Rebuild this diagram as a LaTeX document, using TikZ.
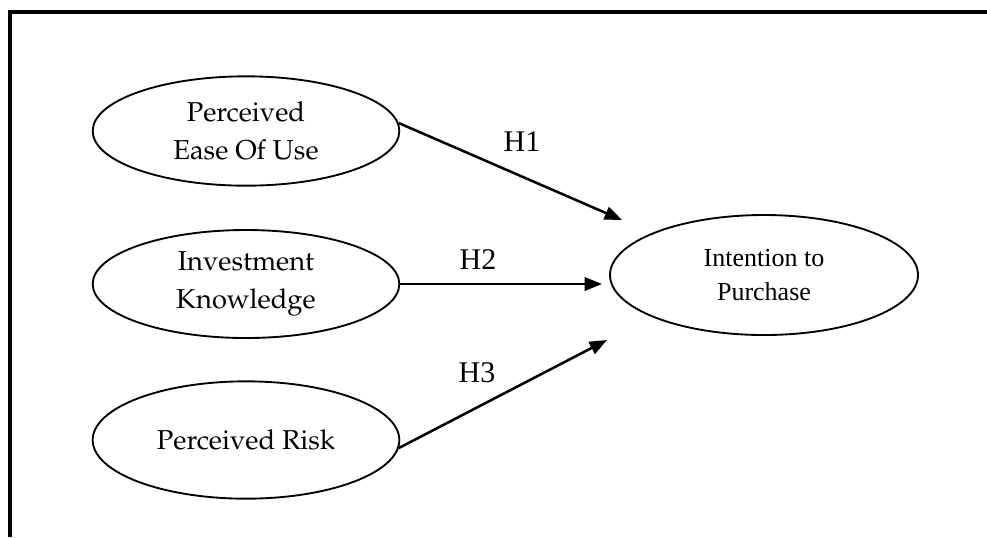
\documentclass[tikz,border=0pt]{standalone}
\usepackage[T1]{fontenc}
\usepackage{fontspec}
\setmainfont{Liberation Serif}
\newfontfamily\timesfont{Liberation Serif}
\usetikzlibrary{shapes.geometric,arrows.meta}
\newcommand\palafont{\fontencoding{T1}\fontfamily{ppl}\selectfont}

\begin{document}
\begin{tikzpicture}[x=0.75pt,y=-0.75pt,
  construct/.style={draw,ellipse,line width=1.4pt,inner sep=0pt,minimum width=230pt,minimum height=82pt,align=center,font=\palafont\fontsize{20.5}{28}\selectfont},
  hyp/.style={-{Triangle[length=13pt,width=10pt]},line width=1.9pt},
  hlabel/.style={font=\timesfont\fontsize{22.5}{27}\selectfont}]
\useasboundingbox (0,0) rectangle (987,537);
\draw[line width=3pt] (987,12) -- (9.5,12) -- (9.5,537);

\node[construct] (ease) at (246,131) {Perceived\\Ease Of Use};
\node[construct,minimum height=81pt] (know) at (246,284) {Investment\\Knowledge};
\node[construct,minimum height=88pt] (risk) at (246,440) {Perceived Risk};
\node[construct,minimum width=231pt,minimum height=90pt,font=\timesfont\fontsize{19.5}{25}\selectfont] (intent) at (764,275) {Intention to\\Purchase};

\coordinate (h1end) at (622,220);
\coordinate (h2end) at (602,284);
\coordinate (h3end) at (607,340);

\draw[hyp] (ease.3) -- (h1end);
\draw[hyp] (know.east) -- (h2end);
\draw[hyp] (risk.-3) -- (h3end);

\node[hlabel] (h1) at (522,142) {H1};
\node[hlabel] (h2) at (478,260) {H2};
\node[hlabel] (h3) at (477,373) {H3};

\end{tikzpicture}
\end{document}
